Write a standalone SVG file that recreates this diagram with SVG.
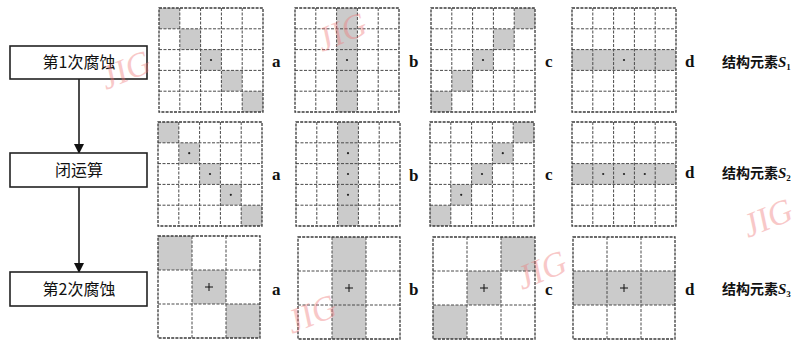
<svg xmlns="http://www.w3.org/2000/svg" xmlns:xlink="http://www.w3.org/1999/xlink" width="797" height="341" viewBox="0 0 797 341">
<style>
.box{fill:#fff;stroke:#222;stroke-width:1.6}
.btxt{font-family:"Noto Sans CJK SC","Liberation Serif",serif;font-size:16px;fill:#111;text-anchor:middle}
.conn{stroke:#111;stroke-width:1.5;fill:none}
.grid{fill:none;stroke:#4a4a4a;stroke-width:1;stroke-dasharray:3 1.5}
.outer{fill:none;stroke:#3a3a3a;stroke-width:1.3;stroke-dasharray:3 1.2}
.sh{fill:#cbcbcb}
.dot{fill:#222}
.plus{stroke:#111;stroke-width:1}
.lab{font-family:"Liberation Serif",serif;font-weight:bold;font-size:17px;fill:#111}
.se{font-family:"Noto Sans CJK SC",sans-serif;font-weight:bold;font-size:14px;fill:#111}
.s{font-family:"Liberation Serif",serif;font-style:italic;font-weight:bold;font-size:15px}
.sub{font-family:"Liberation Serif",serif;font-size:9px}
.wm{font-family:"Liberation Serif",serif;font-style:italic;font-size:34px;fill:#f07878;opacity:0.4}
</style>
<defs>
<marker id="arr" markerWidth="10" markerHeight="12" refX="9" refY="5" orient="auto" markerUnits="userSpaceOnUse">
<path d="M0,0 L10,5 L0,10 Z" fill="#111"/>
</marker>
<g id="g5">
<path class="grid" d="M20.8,0V104M41.6,0V104M62.4,0V104M83.2,0V104M0,20.8H104M0,41.6H104M0,62.4H104M0,83.2H104"/>
<rect class="outer" x="0" y="0" width="104" height="104"/>
</g>
<g id="g3">
<path class="grid" d="M34,0V102M68,0V102M0,34H102M0,68H102"/>
<rect class="outer" x="0" y="0" width="102" height="102"/>
</g>
</defs>
<rect width="797" height="341" fill="#fff"/>

<g id="connectors">
<line class="conn" x1="79" y1="79" x2="79" y2="153" marker-end="url(#arr)"/>
<line class="conn" x1="79" y1="187" x2="79" y2="272" marker-end="url(#arr)"/>
</g>

<g id="step1"><rect class="box" x="10" y="46" width="137" height="33"/><text class="btxt" x="79" y="68">第1次腐蚀</text></g>
<g id="step2"><rect class="box" x="10" y="153" width="137" height="34"/><text class="btxt" x="79" y="176">闭运算</text></g>
<g id="step3"><rect class="box" x="10" y="272" width="137" height="34"/><text class="btxt" x="79" y="295">第2次腐蚀</text></g>

<!-- Row 1 -->
<g id="r1a" transform="translate(159,8)">
<rect class="sh" x="0" y="0" width="20.8" height="20.8"/><rect class="sh" x="20.8" y="20.8" width="20.8" height="20.8"/><rect class="sh" x="41.6" y="41.6" width="20.8" height="20.8"/><rect class="sh" x="62.4" y="62.4" width="20.8" height="20.8"/><rect class="sh" x="83.2" y="83.2" width="20.8" height="20.8"/>
<use xlink:href="#g5"/><circle class="dot" cx="52" cy="52" r="1.1"/>
</g>
<g id="r1b" transform="translate(295,8)">
<rect class="sh" x="41.6" y="0" width="20.8" height="104"/>
<use xlink:href="#g5"/><circle class="dot" cx="52" cy="52" r="1.1"/>
</g>
<g id="r1c" transform="translate(431,8)">
<rect class="sh" x="83.2" y="0" width="20.8" height="20.8"/><rect class="sh" x="62.4" y="20.8" width="20.8" height="20.8"/><rect class="sh" x="41.6" y="41.6" width="20.8" height="20.8"/><rect class="sh" x="20.8" y="62.4" width="20.8" height="20.8"/><rect class="sh" x="0" y="83.2" width="20.8" height="20.8"/>
<use xlink:href="#g5"/><circle class="dot" cx="52" cy="52" r="1.1"/>
</g>
<g id="r1d" transform="translate(572,8)">
<rect class="sh" x="0" y="41.6" width="104" height="20.8"/>
<use xlink:href="#g5"/><circle class="dot" cx="52" cy="52" r="1.1"/>
</g>
<g id="r1labels">
<text class="lab" x="272" y="67">a</text><text class="lab" x="409" y="67">b</text><text class="lab" x="545" y="67">c</text><text class="lab" x="685" y="67">d</text>
<text class="se" x="722" y="67">结构元素<tspan class="s">S</tspan><tspan class="sub" dy="3">1</tspan></text>
</g>

<!-- Row 2 -->
<g id="r2a" transform="translate(158,122)">
<rect class="sh" x="0" y="0" width="20.8" height="20.8"/><rect class="sh" x="20.8" y="20.8" width="20.8" height="20.8"/><rect class="sh" x="41.6" y="41.6" width="20.8" height="20.8"/><rect class="sh" x="62.4" y="62.4" width="20.8" height="20.8"/><rect class="sh" x="83.2" y="83.2" width="20.8" height="20.8"/>
<use xlink:href="#g5"/><circle class="dot" cx="31.2" cy="31.2" r="1.1"/><circle class="dot" cx="52" cy="52" r="1.1"/><circle class="dot" cx="72.8" cy="72.8" r="1.1"/>
</g>
<g id="r2b" transform="translate(296,122)">
<rect class="sh" x="41.6" y="0" width="20.8" height="104"/>
<use xlink:href="#g5"/><circle class="dot" cx="52" cy="31.2" r="1.1"/><circle class="dot" cx="52" cy="52" r="1.1"/><circle class="dot" cx="52" cy="72.8" r="1.1"/>
</g>
<g id="r2c" transform="translate(430,122)">
<rect class="sh" x="83.2" y="0" width="20.8" height="20.8"/><rect class="sh" x="62.4" y="20.8" width="20.8" height="20.8"/><rect class="sh" x="41.6" y="41.6" width="20.8" height="20.8"/><rect class="sh" x="20.8" y="62.4" width="20.8" height="20.8"/><rect class="sh" x="0" y="83.2" width="20.8" height="20.8"/>
<use xlink:href="#g5"/><circle class="dot" cx="72.8" cy="31.2" r="1.1"/><circle class="dot" cx="52" cy="52" r="1.1"/><circle class="dot" cx="31.2" cy="72.8" r="1.1"/>
</g>
<g id="r2d" transform="translate(572,122)">
<rect class="sh" x="0" y="41.6" width="104" height="20.8"/>
<use xlink:href="#g5"/><circle class="dot" cx="31.2" cy="52" r="1.1"/><circle class="dot" cx="52" cy="52" r="1.1"/><circle class="dot" cx="72.8" cy="52" r="1.1"/>
</g>
<g id="r2labels">
<text class="lab" x="272" y="180">a</text><text class="lab" x="409" y="181">b</text><text class="lab" x="545" y="180">c</text><text class="lab" x="685" y="178">d</text>
<text class="se" x="722" y="178">结构元素<tspan class="s">S</tspan><tspan class="sub" dy="3">2</tspan></text>
</g>

<!-- Row 3 -->
<g id="r3a" transform="translate(158,236)">
<rect class="sh" x="0" y="0" width="34" height="34"/><rect class="sh" x="34" y="34" width="34" height="34"/><rect class="sh" x="68" y="68" width="34" height="34"/>
<use xlink:href="#g3"/><path class="plus" d="M47,51H55M51,47V55"/>
</g>
<g id="r3b" transform="translate(298,237)">
<rect class="sh" x="34" y="0" width="34" height="102"/>
<use xlink:href="#g3"/><path class="plus" d="M47,51H55M51,47V55"/>
</g>
<g id="r3c" transform="translate(433,237)">
<rect class="sh" x="68" y="0" width="34" height="34"/><rect class="sh" x="34" y="34" width="34" height="34"/><rect class="sh" x="0" y="68" width="34" height="34"/>
<use xlink:href="#g3"/><path class="plus" d="M47,51H55M51,47V55"/>
</g>
<g id="r3d" transform="translate(573,237)">
<rect class="sh" x="0" y="34" width="102" height="34"/>
<use xlink:href="#g3"/><path class="plus" d="M47,51H55M51,47V55"/>
</g>
<g id="r3labels">
<text class="lab" x="272" y="295">a</text><text class="lab" x="409" y="295">b</text><text class="lab" x="545" y="295">c</text><text class="lab" x="685" y="295">d</text>
<text class="se" x="722" y="294">结构元素<tspan class="s">S</tspan><tspan class="sub" dy="3">3</tspan></text>
</g>

<g id="watermarks">
<text class="wm" transform="translate(106,90) rotate(-22)">JIG</text>
<text class="wm" transform="translate(322,52) rotate(-22)">JIG</text>
<text class="wm" transform="translate(292,334) rotate(-22)">JIG</text>
<text class="wm" transform="translate(522,290) rotate(-22)">JIG</text>
<text class="wm" transform="translate(748,238) rotate(-22)">JIG</text>
</g>
</svg>
